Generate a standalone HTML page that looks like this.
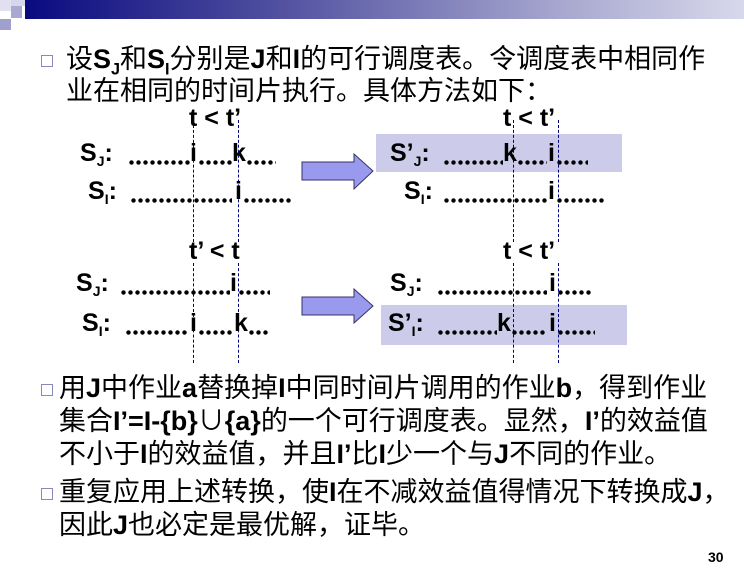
<!DOCTYPE html>
<html><head><meta charset="utf-8"><style>
body{margin:0;width:744px;height:572px;background:#fff;position:relative;overflow:hidden;font-family:"Liberation Sans","Noto Sans CJK SC",sans-serif;}
.ln{position:absolute;font-size:27px;line-height:32px;white-space:nowrap;color:#000;}
.ln b{font-weight:bold;}
.bul{position:absolute;width:10px;height:10px;border:1.5px solid #8888bb;background:#fff;}
.d{position:absolute;font-weight:bold;font-size:25px;white-space:nowrap;line-height:28px;}
.d sub{font-size:14px;vertical-align:-5px;}
.dots{position:absolute;height:5px;background:radial-gradient(circle,#000 2px,transparent 2.4px);background-size:7px 5px;}
.v{position:absolute;border-left:1.3px dashed #000080;width:0;}
.box{position:absolute;background:#ccccea;}
sub{font-size:60%;}
</style></head><body>
<div style="position:absolute;left:25px;top:0;width:719px;height:19px;background:linear-gradient(to right,#0a0a80,#5050a0 35%,#a8a8d0 75%,#d8d8ec)"></div>
<div style="position:absolute;left:0;top:0;width:11px;height:11px;background:#e0e0f0"></div>
<div style="position:absolute;left:11px;top:0;width:14px;height:6px;background:#d6d6ec"></div>
<div style="position:absolute;left:11px;top:6px;width:11px;height:12px;background:#a8a8d0"></div>
<div style="position:absolute;left:0;top:19px;width:11px;height:11px;background:#a0a0cc"></div>

<div class="bul" style="left:41px;top:55px"></div>
<div class="ln" style="left:66px;top:43px">设<b>S<sub>J</sub></b>和<b>S<sub>I</sub></b>分别是<b>J</b>和<b>I</b>的可行调度表。令调度表中相同作</div>
<div class="ln" style="left:66px;top:75px">业在相同的时间片执行。具体方法如下：</div>

<div class="box" style="left:376px;top:134px;width:246px;height:38px"></div>
<div class="box" style="left:381px;top:305px;width:246px;height:40px"></div>

<div class="v" style="left:193px;top:120px;height:122px"></div>
<div class="v" style="left:238px;top:120px;height:122px"></div>
<div class="v" style="left:513px;top:120px;height:122px"></div>
<div class="v" style="left:558px;top:120px;height:122px"></div>
<div class="v" style="left:193px;top:263px;height:100px"></div>
<div class="v" style="left:238px;top:263px;height:100px"></div>
<div class="v" style="left:513px;top:263px;height:100px"></div>
<div class="v" style="left:558px;top:263px;height:100px"></div>

<div class="d" style="left:189px;top:104px">t &lt; t’</div>
<div class="d" style="left:503px;top:104px">t &lt; t’</div>
<div class="d" style="left:189px;top:237px">t’ &lt; t</div>
<div class="d" style="left:503px;top:237px">t &lt; t’</div>

<!-- top-left SJ -->
<div class="d" style="left:80px;top:139px">S<sub>J</sub>:</div>
<div class="dots" style="left:128px;top:160px;width:62px"></div>
<div class="d" style="left:190px;top:139px">i</div>
<div class="dots" style="left:198px;top:160px;width:35px"></div>
<div class="d" style="left:232px;top:139px">k</div>
<div class="dots" style="left:246px;top:160px;width:30px"></div>
<!-- top-left SI -->
<div class="d" style="left:88px;top:177px">S<sub>I</sub>:</div>
<div class="dots" style="left:130px;top:198px;width:102px"></div>
<div class="d" style="left:235px;top:177px">i</div>
<div class="dots" style="left:243px;top:198px;width:49px"></div>
<!-- top-right S'J -->
<div class="d" style="left:390px;top:139px">S’<sub>J</sub>:</div>
<div class="dots" style="left:443px;top:160px;width:60px"></div>
<div class="d" style="left:503px;top:139px">k</div>
<div class="dots" style="left:517px;top:160px;width:30px"></div>
<div class="d" style="left:548px;top:139px">i</div>
<div class="dots" style="left:556px;top:160px;width:32px"></div>
<!-- top-right SI -->
<div class="d" style="left:404px;top:177px">S<sub>I</sub>:</div>
<div class="dots" style="left:443px;top:198px;width:106px"></div>
<div class="d" style="left:548px;top:177px">i</div>
<div class="dots" style="left:556px;top:198px;width:49px"></div>
<!-- bottom-left SJ -->
<div class="d" style="left:76px;top:269px">S<sub>J</sub>:</div>
<div class="dots" style="left:120px;top:290px;width:110px"></div>
<div class="d" style="left:230px;top:269px">i</div>
<div class="dots" style="left:238px;top:290px;width:32px"></div>
<!-- bottom-left SI -->
<div class="d" style="left:82px;top:309px">S<sub>I</sub>:</div>
<div class="dots" style="left:125px;top:330px;width:64px"></div>
<div class="d" style="left:190px;top:309px">i</div>
<div class="dots" style="left:198px;top:330px;width:36px"></div>
<div class="d" style="left:234px;top:309px">k</div>
<div class="dots" style="left:248px;top:330px;width:20px"></div>
<!-- bottom-right SJ -->
<div class="d" style="left:390px;top:269px">S<sub>J</sub>:</div>
<div class="dots" style="left:437px;top:290px;width:110px"></div>
<div class="d" style="left:549px;top:269px">i</div>
<div class="dots" style="left:557px;top:290px;width:34px"></div>
<!-- bottom-right S'I -->
<div class="d" style="left:388px;top:309px">S’<sub>I</sub>:</div>
<div class="dots" style="left:437px;top:330px;width:60px"></div>
<div class="d" style="left:497px;top:309px">k</div>
<div class="dots" style="left:511px;top:330px;width:36px"></div>
<div class="d" style="left:549px;top:309px">i</div>
<div class="dots" style="left:557px;top:330px;width:38px"></div>

<svg style="position:absolute;left:0;top:0" width="744" height="572">
<polygon points="302,162 354,162 354,154 373,171 354,189 354,180 302,180" fill="#9999ee" stroke="#333366" stroke-width="1"/>
<polygon points="302,297 354,297 354,289 373,306 354,323 354,315 302,315" fill="#9999ee" stroke="#333366" stroke-width="1"/>
</svg>

<div class="bul" style="left:41px;top:384px"></div>
<div class="ln" style="left:59px;top:372px">用<b>J</b>中作业<b>a</b>替换掉<b>I</b>中同时间片调用的作业<b>b</b>，得到作业</div>
<div class="ln" style="left:59px;top:405px">集合<b>I’=I-{b}</b>∪<b>{a}</b>的一个可行调度表。显然，<b>I’</b>的效益值</div>
<div class="ln" style="left:59px;top:438px">不小于<b>I</b>的效益值，并且<b>I’</b>比<b>I</b>少一个与<b>J</b>不同的作业。</div>
<div class="bul" style="left:41px;top:488px"></div>
<div class="ln" style="left:59px;top:476px">重复应用上述转换，使<b>I</b>在不减效益值得情况下转换成<b>J</b>，</div>
<div class="ln" style="left:59px;top:509px">因此<b>J</b>也必定是最优解，证毕。</div>
<div style="position:absolute;left:708px;top:549px;font-weight:bold;font-size:14px">30</div>
</body></html>
